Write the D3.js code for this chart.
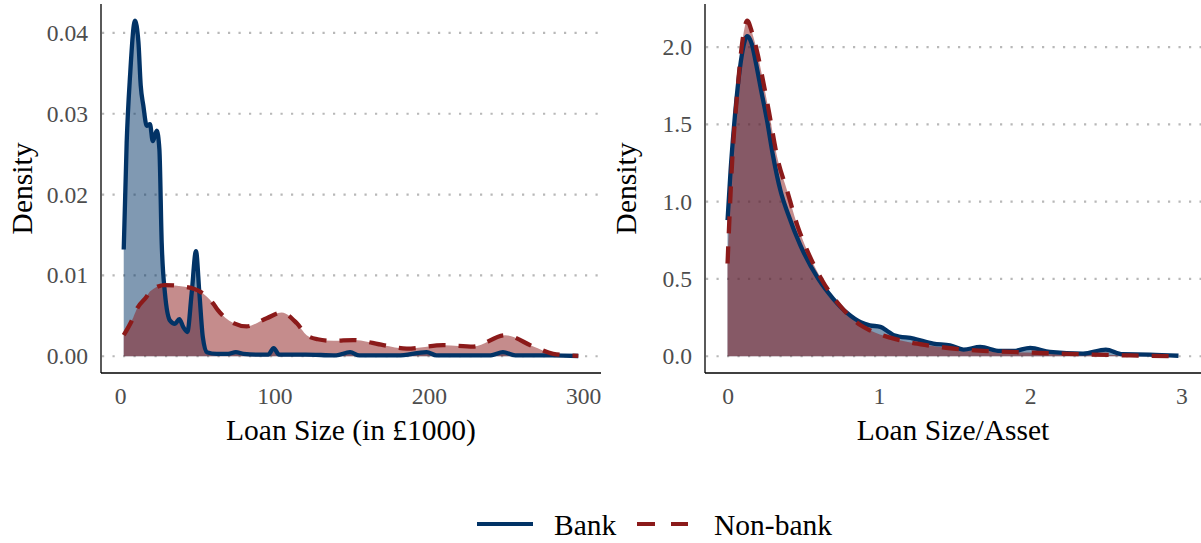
<!DOCTYPE html>
<html>
<head>
<meta charset="utf-8">
<script src="https://cdn.jsdelivr.net/npm/d3@7"></script>
<style>
  body { margin: 0; background: #fff; }
  svg, svg text { font-family: "Liberation Serif", "Times New Roman", Times, serif !important; }
</style>
</head>
<body>
<svg id="chart" width="1201" height="543"></svg>
<script>
// left panel: loan size (in £1000)
const loanX = [2.4, 4.3, 6.5, 9.7, 11.9, 13.4, 15.1, 17.3, 19.4, 21.2, 23.8, 25.5, 27.0, 29.1, 32.4, 35.6, 38.4, 41.0, 43.6, 46.4, 49.2, 51.4, 53.6, 56.2, 62.6, 70, 75, 80, 90, 96, 99.5, 103, 120, 140, 149, 155, 180, 198.6, 205, 240, 248, 256, 280, 296.8];
const loanBank = [0.0132, 0.0264, 0.0347, 0.0415, 0.0389, 0.0335, 0.031, 0.0285, 0.0287, 0.0266, 0.0279, 0.0256, 0.014, 0.0078, 0.0044, 0.004, 0.0046, 0.0036, 0.003, 0.0078, 0.013, 0.0078, 0.0024, 0.0005, 0.0003, 0.0003, 0.0005, 0.0003, 0.0002, 0.0002, 0.001, 0.0002, 0.0002, 0.0001, 0.0005, 0.0001, 0.0001, 0.0005, 0.0001, 0.0001, 0.0005, 0.0001, 0.0001, 0.00003];
const loanNbX = [2.4, 8.6, 10.8, 17.3, 19.4, 29, 42, 51.8, 60.4, 63, 73.4, 82.1, 95, 104.7, 114.4, 120.9, 128, 138.1, 151.1, 170.5, 185.7, 209.4, 228.8, 249.4, 267.7, 280.6, 296.8];
const loanNonbank = [0.0026, 0.0048, 0.0058, 0.0074, 0.008, 0.0088, 0.0086, 0.008, 0.0065, 0.0058, 0.0041, 0.0037, 0.0047, 0.0054, 0.0041, 0.0026, 0.0021, 0.0019, 0.002, 0.00137, 0.00095, 0.00137, 0.0012, 0.0026, 0.0012, 0.0003, 0.00005];

// right panel: loan size / asset
const ratioX = [0, 0.02, 0.042, 0.075, 0.1, 0.13, 0.16, 0.185, 0.22, 0.26, 0.3, 0.35, 0.4, 0.48, 0.6, 0.7, 0.79, 0.88, 0.94, 1.01, 1.06, 1.1, 1.23, 1.36, 1.47, 1.56, 1.67, 1.8, 1.89, 2.0, 2.13, 2.35, 2.5, 2.61, 2.79, 2.98];
const ratioBank = [0.88, 1.2, 1.48, 1.81, 1.98, 2.07, 2.02, 1.91, 1.73, 1.53, 1.3, 1.07, 0.92, 0.72, 0.5, 0.37, 0.28, 0.22, 0.2, 0.19, 0.16, 0.136, 0.114, 0.082, 0.071, 0.043, 0.06, 0.034, 0.034, 0.054, 0.028, 0.017, 0.043, 0.013, 0.011, 0.003];
const ratioNbX = [0, 0.031, 0.064, 0.1, 0.13, 0.16, 0.2, 0.229, 0.272, 0.33, 0.394, 0.46, 0.526, 0.62, 0.767, 0.88, 0.94, 1.075, 1.2, 1.32, 1.54, 1.76, 1.98, 2.2, 2.41, 2.66, 2.94];
const ratioNonbank = [0.6, 1.27, 1.7, 2.05, 2.17, 2.1, 1.95, 1.81, 1.59, 1.28, 1.07, 0.85, 0.685, 0.5, 0.3, 0.2, 0.168, 0.12, 0.09, 0.071, 0.045, 0.032, 0.024, 0.017, 0.011, 0.005, 0.001];

const groups = ["Bank", "Non-bank"];
const colors = { "Bank": "#023366", "Non-bank": "#8b1a1a" };
const dashes = { "Bank": null, "Non-bank": "17,13" };
const serif = "'Liberation Serif', 'Times New Roman', Times, serif";

const svg = d3.select("#chart").attr("font-family", serif);

function expand(ext) {
  const pad = (ext[1] - ext[0]) * 0.05;
  return [ext[0] - pad, ext[1] + pad];
}

function drawPanel(opts) {
  const top = 4, bottom = 373;
  const series = [
    { name: "Bank", pts: d3.zip(opts.bankX, opts.bankY) },
    { name: "Non-bank", pts: d3.zip(opts.nbX, opts.nbY) }
  ];
  const allX = opts.bankX.concat(opts.nbX);
  const allY = opts.bankY.concat(opts.nbY);

  const x = d3.scaleLinear().domain(expand(d3.extent(allX))).range([opts.left, opts.right]);
  const y = d3.scaleLinear().domain(expand([0, d3.max(allY)])).range([bottom, top]);

  const g = svg.append("g");

  // dotted horizontal grid
  g.selectAll("line.grid")
    .data(opts.yTicks)
    .join("line")
      .attr("class", "grid")
      .attr("x1", opts.left + 1)
      .attr("x2", opts.right)
      .attr("y1", d => y(d))
      .attr("y2", d => y(d))
      .style("stroke", "#b8b8b8")
      .style("stroke-width", 2.2)
      .style("stroke-dasharray", "2.2,8.3");

  const area = d3.area()
    .curve(d3.curveMonotoneX)
    .x(d => x(d[0]))
    .y0(y(0))
    .y1(d => y(d[1]));

  const line = d3.line()
    .curve(d3.curveMonotoneX)
    .x(d => x(d[0]))
    .y(d => y(d[1]));

  g.selectAll("path.area")
    .data(series)
    .join("path")
      .attr("class", "area")
      .attr("d", d => area(d.pts))
      .style("fill", d => colors[d.name])
      .style("fill-opacity", 0.5);

  g.selectAll("path.line")
    .data(series)
    .join("path")
      .attr("class", "line")
      .attr("d", d => line(d.pts))
      .style("fill", "none")
      .style("stroke", d => colors[d.name])
      .style("stroke-width", 4.3)
      .style("stroke-dasharray", d => dashes[d.name]);

  // axes
  const yAxis = g.append("g")
    .attr("transform", `translate(${opts.left},0)`)
    .call(d3.axisLeft(y).tickValues(opts.yTicks).tickFormat(d3.format(opts.yFormat)).tickSize(0).tickPadding(13));
  yAxis.select(".domain").attr("d", `M0,${top}V${bottom}`).style("stroke", "#000").style("stroke-width", 1.3);

  const xAxis = g.append("g")
    .attr("transform", `translate(0,${bottom})`)
    .call(d3.axisBottom(x).tickValues(opts.xTicks).tickFormat(d3.format("d")).tickSize(0).tickPadding(14));
  xAxis.select(".domain").attr("d", `M${opts.left},0H${opts.right}`).style("stroke", "#000").style("stroke-width", 1.3);

  [xAxis, yAxis].forEach(a => a.attr("font-family", serif).attr("font-size", 23.6));
  g.selectAll(".tick text").attr("fill", "#4d4d4d");

  g.append("text")
    .attr("x", (opts.left + opts.right) / 2)
    .attr("y", 440)
    .attr("text-anchor", "middle")
    .attr("font-size", 29.5)
    .text(opts.xTitle);

  g.append("text")
    .attr("transform", `translate(${opts.left - 69},${(top + bottom) / 2}) rotate(-90)`)
    .attr("text-anchor", "middle")
    .attr("font-size", 29.5)
    .text("Density");
}

drawPanel({
  left: 101, right: 601,
  bankX: loanX, bankY: loanBank, nbX: loanNbX, nbY: loanNonbank,
  xTicks: [0, 100, 200, 300], yTicks: [0, 0.01, 0.02, 0.03, 0.04], yFormat: ".2f",
  xTitle: "Loan Size (in £1000)"
});

drawPanel({
  left: 705, right: 1201,
  bankX: ratioX, bankY: ratioBank, nbX: ratioNbX, nbY: ratioNonbank,
  xTicks: [0, 1, 2, 3], yTicks: [0, 0.5, 1, 1.5, 2], yFormat: ".1f",
  xTitle: "Loan Size/Asset"
});

// legend
const legend = svg.append("g").attr("transform", "translate(477,524)");
const item = legend.selectAll("g")
  .data(groups)
  .join("g")
    .attr("transform", (d, i) => `translate(${i * 160},0)`);
item.append("line")
  .attr("x1", 0).attr("x2", d => d === "Bank" ? 56 : 51)
  .style("stroke", d => colors[d])
  .style("stroke-width", 4)
  .style("stroke-dasharray", d => d === "Bank" ? null : "18,16");
item.append("text")
  .attr("x", 77)
  .attr("y", 11)
  .attr("font-size", 29.5)
  .text(d => d);
</script>
</body>
</html>
